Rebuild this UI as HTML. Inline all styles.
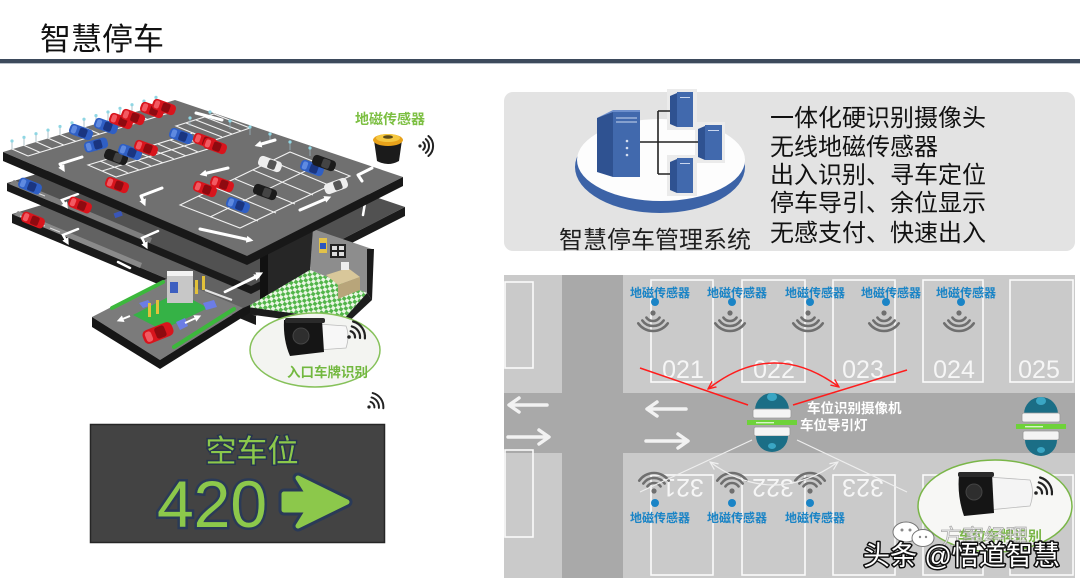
<!DOCTYPE html>
<html><head><meta charset="utf-8"><title>智慧停车</title>
<style>
html,body{margin:0;padding:0;background:#fff}
body{width:1080px;height:588px;overflow:hidden}
svg{display:block}
</style></head><body>
<svg xmlns="http://www.w3.org/2000/svg" width="1080" height="588" viewBox="0 0 1080 588" font-family="'Liberation Sans','Noto Sans CJK SC',sans-serif">
<defs>
<pattern id="chk" width="7" height="7" patternUnits="userSpaceOnUse" patternTransform="rotate(35)">
 <rect width="7" height="7" fill="#eaf6e4"/>
 <rect width="3.5" height="3.5" fill="#52b54a"/>
 <rect x="3.5" y="3.5" width="3.5" height="3.5" fill="#52b54a"/>
</pattern>
<g id="cR"><rect x="-12" y="-5.5" width="24" height="11" rx="4" fill="#d8141c"/><rect x="-2" y="-4.5" width="8" height="9" rx="2" fill="#8e0a10"/><rect x="-10" y="-4" width="5" height="8" rx="2" fill="#f25a62"/></g>
<g id="cB"><rect x="-12" y="-5.5" width="24" height="11" rx="4" fill="#2f5fc4"/><rect x="-2" y="-4.5" width="8" height="9" rx="2" fill="#1a3580"/><rect x="-10" y="-4" width="5" height="8" rx="2" fill="#5f8ae0"/></g>
<g id="cK"><rect x="-12" y="-5.5" width="24" height="11" rx="4" fill="#1b1b1b"/><rect x="-2" y="-4.5" width="8" height="9" rx="2" fill="#444"/></g>
<g id="cW"><rect x="-12" y="-5.5" width="24" height="11" rx="4" fill="#eeeeee"/><rect x="-2" y="-4.5" width="8" height="9" rx="2" fill="#555"/></g>
<marker id="ra" viewBox="0 0 10 10" refX="9" refY="5" markerWidth="9" markerHeight="9" markerUnits="userSpaceOnUse" orient="auto-start-reverse"><path d="M0,1 L9,5 L0,9" fill="none" stroke="#ff1c1c" stroke-width="1.5"/></marker>
<marker id="wa" viewBox="0 0 10 10" refX="9" refY="5" markerWidth="9" markerHeight="9" markerUnits="userSpaceOnUse" orient="auto-start-reverse"><path d="M0,1 L9,5 L0,9" fill="none" stroke="#f0f0f0" stroke-width="1.3"/></marker>
<marker id="dh" viewBox="0 0 10 10" refX="5" refY="5" markerWidth="7" markerHeight="7" markerUnits="userSpaceOnUse" orient="auto"><path d="M0,0 L10,5 L0,10 z" fill="#fff"/></marker>
<g id="wd" fill="none" stroke="#6f6f6f" stroke-width="2.6" stroke-linecap="round">
 <circle cx="0" cy="0" r="2.6" fill="#6f6f6f" stroke="none"/>
 <path d="M6.55,4.59 A8,8 0 0 1 -6.55,4.59"/>
 <path d="M10.65,7.46 A13,13 0 0 1 -10.65,7.46"/>
 <path d="M14.74,10.32 A18,18 0 0 1 -14.74,10.32"/>
</g>
<g id="wu" fill="none" stroke="#6f6f6f" stroke-width="2.6" stroke-linecap="round">
 <circle cx="0" cy="0" r="2.6" fill="#6f6f6f" stroke="none"/>
 <path d="M6.55,-4.59 A8,8 0 0 0 -6.55,-4.59"/>
 <path d="M10.65,-7.46 A13,13 0 0 0 -10.65,-7.46"/>
 <path d="M14.74,-10.32 A18,18 0 0 0 -14.74,-10.32"/>
</g>
<g id="wr" fill="none" stroke="#222" stroke-width="2.2" stroke-linecap="round">
 <circle cx="0" cy="0" r="1.8" fill="#222" stroke="none"/>
 <path d="M1.6,-5.8 A6,6 0 0 1 6,0.5"/>
 <path d="M2.8,-10.6 A11,11 0 0 1 11,1"/>
 <path d="M4.1,-15.5 A16,16 0 0 1 15.9,1.4"/>
</g>
<g id="lamp">
 <path d="M-17,17 A17,17 0 0 1 17,17 Z" fill="#1b6e86"/>
 <ellipse cx="0" cy="4" rx="5" ry="4" fill="#3aa6c4"/>
 <rect x="-19" y="16" width="38" height="9" rx="2" fill="#f4f4f4" stroke="#9a9a9a" stroke-width="0.8"/>
 <rect x="-25" y="27" width="50" height="5" fill="#6ed23a"/>
 <rect x="-16" y="29" width="18" height="1.4" fill="#d8f5c8"/>
 <rect x="-18" y="34" width="36" height="9" rx="2" fill="#f4f4f4" stroke="#9a9a9a" stroke-width="0.8"/>
 <path d="M-16,43 A16,16 0 0 0 16,43 Z" fill="#1b6e86"/>
 <ellipse cx="0" cy="53" rx="4" ry="3" fill="#3aa6c4"/>
</g>
</defs>

<rect width="1080" height="588" fill="#fff"/>

<!-- Title -->
<text x="40" y="50" font-size="31" fill="#111">智慧停车</text>
<rect x="0" y="59" width="1080" height="4" fill="#3d4a5c"/>
<rect x="0" y="63" width="1080" height="1" fill="#b9c0c9"/>

<!-- ================= LEFT GARAGE ================= -->
<!-- level 3 -->
<polygon points="12,214 184,162 360,222 256,316" fill="#626262"/>
<polygon points="12,214 256,316 256,325 12,223" fill="#1a1a1a"/>
<!-- level 2 -->
<polygon points="7,183 179,131 405,207 251,286" fill="#515151"/>
<polygon points="7,183 251,286 251,294 7,191" fill="#1a1a1a"/>
<polygon points="251,286 405,207 405,216 251,294" fill="#1a1a1a"/>
<polygon points="9,184 150,243 152,238 14,180" fill="#7e7e7e"/>
<polygon points="14,215 140,268 142,263 18,211" fill="#8a8a8a"/>
<!-- level markings -->
<g fill="none" stroke="#fff" stroke-width="2.5" stroke-linecap="round">
 <path d="M78,194 L62,200 L66,206" marker-end="url(#dh)"/>
 <path d="M158,231 L142,238 L146,246" marker-end="url(#dh)"/>
 <path d="M78,229 L63,235 L67,242" marker-end="url(#dh)"/>
 <path d="M118,262 L130,268"/>
 <path d="M357,205 L365,203 L363,215"/>
 <path d="M225,292 L258,276" marker-end="url(#dh)"/>
</g>
<g stroke="#ddd" stroke-width="1" fill="none"><path d="M20,186 l10,4 M35,192 l10,4 M20,216 l10,4 M35,222 l10,4 M50,228 l10,4"/></g>
<use href="#cB" transform="translate(30,186) rotate(22)"/>
<use href="#cR" transform="translate(80,205) rotate(22)"/>
<use href="#cR" transform="translate(33,220) rotate(22)"/>
<rect x="114" y="212" width="8" height="5" fill="#3a56b8" transform="rotate(-20 118 214)"/>

<!-- building -->
<polygon points="268,254 313,229 310,270 268,295" fill="#262626"/>
<polygon points="313,229 372,249 367,293 310,270" fill="#8d8d8d"/>
<polygon points="367,249 374,249 372,300 367,293" fill="#1a1a1a"/>
<polygon points="260,256 268,253 268,300 260,304" fill="#111"/>
<polygon points="247,307 310,270 367,293 343,320" fill="url(#chk)"/>
<polygon points="247,307 343,320 343,327 247,314" fill="#1d1d1d"/>
<polygon points="343,320 367,293 372,300 343,327" fill="#1d1d1d"/>
<rect x="319" y="238" width="8" height="15" fill="#e2c24a"/><rect x="320" y="243" width="6" height="6" fill="#2c56c0"/>
<rect x="330" y="244" width="16" height="14" fill="#222"/>
<g fill="#ddd"><rect x="332" y="246" width="5" height="4"/><rect x="339" y="246" width="5" height="4"/><rect x="332" y="252" width="5" height="4"/><rect x="339" y="252" width="5" height="4"/></g>
<polygon points="326,275 348,268 360,277 338,285" fill="#d8c79a"/>
<polygon points="338,285 360,277 360,290 338,299" fill="#b8a57a"/>
<rect x="341" y="262" width="8" height="8" fill="#eee"/>

<!-- entry platform -->
<polygon points="92,317 170,277 243,308 160,360" fill="#7b7b7b"/>
<polygon points="92,317 160,360 160,369 92,327" fill="#161616"/>
<polygon points="160,360 243,308 243,317 160,369" fill="#161616"/>
<polygon points="243,308 250,305 250,313 243,317" fill="#161616"/>
<polygon points="133,315 178,292 208,308 162,330" fill="#35b246"/>
<g stroke="#3cb83c" stroke-width="4" stroke-linecap="round"><path d="M112,308 L163,282"/><path d="M174,347 L234,309"/></g>
<polygon points="139,303 148,300 152,305 143,308" fill="#6c7de6"/>
<polygon points="203,303 214,300 217,307 206,310" fill="#6c7de6"/>
<polygon points="176,322 185,318 188,326 180,330" fill="#6c7de6"/>
<rect x="167" y="273" width="26" height="30" fill="#c7c7c7"/><rect x="167" y="271" width="26" height="5" fill="#f2f2f2"/>
<rect x="170" y="282" width="8" height="11" fill="#3d5fc0"/>
<g fill="#e2c13a"><rect x="148" y="303" width="3" height="14"/><rect x="156" y="300" width="3" height="14"/><rect x="195" y="280" width="3" height="14"/><rect x="202" y="276" width="3" height="14"/></g>
<path d="M205,290 L232,300" stroke="#e4e4e4" stroke-width="2"/>
<g stroke="#fff" stroke-width="2" fill="none"><path d="M130,316 L120,320" marker-end="url(#dh)"/><path d="M185,323 L198,317" marker-end="url(#dh)"/><path d="M224,292 L260,274" marker-end="url(#dh)"/></g>
<use href="#cR" transform="translate(158,333) rotate(-22) scale(1.3)"/>

<!-- top deck -->
<polygon points="3,152 175,100 403,177 247,256" fill="#707070"/>
<polygon points="3,152 247,256 247,265 3,161" fill="#181818"/>
<polygon points="247,256 403,177 403,186 247,265" fill="#181818"/>
<!-- deck markings -->
<g fill="none" stroke="#f2f2f2" stroke-width="1.1">
 <path d="M12,149 l16,7 M24,145.4 l16,7 M36,141.7 l16,7 M48,138.1 l16,7 M60,134.5 l16,7 M72,130.9 l16,7 M84,127.2 l16,7 M96,123.6 l16,7 M108,120 l16,7 M120,116.3 l16,7 M132,112.7 l16,7 M144,109.1 l16,7 M156,105.4 l16,7"/>
 <path d="M28,156 L172,112"/>
 <path d="M88,165 L193,133 L221,145 L116,177 Z M102,171 L207,139"/>
 <path d="M100,161 l27.6,11.7 M111,158 l27.6,11.7 M123,154 l27.6,11.7 M135,151 l27.6,11.7 M146,147 l27.6,11.7 M158,144 l27.6,11.7 M170,140 l27.6,11.7 M181,136 l27.6,11.7"/>
 <path d="M180,205 L290,152 L350,176 L240,228 Z M210,217 L320,164"/>
 <path d="M198,196 l60,25 M216,188 l60,25 M235,179 l60,25 M253,170 l60,25 M271,161 l60,25"/>
 <path d="M176,126 L214,114 L250,128 L212,141 Z"/>
 <path d="M186,123 l36,14 M196,120 l36,14 M205,117 l36,14"/>
</g>
<g stroke="#9ab2bc" stroke-width="0.8"><path d="M12,149 v-7 M24,145.4 v-7 M36,141.7 v-7 M48,138.1 v-7 M60,134.5 v-7 M72,130.9 v-7 M84,127.2 v-7 M96,123.6 v-7 M108,120 v-7 M120,116.3 v-7 M132,112.7 v-7 M144,109.1 v-7 M156,105.4 v-7 M190,126 v-7 M210,120 v-7 M230,129 v-7 M250,135 v-7 M270,142 v-7 M290,150 v-7 M310,156 v-7"/></g>
<g fill="#8fd6e3"><circle cx="12" cy="141" r="1.6"/><circle cx="24" cy="137.4" r="1.6"/><circle cx="36" cy="133.7" r="1.6"/><circle cx="48" cy="130.1" r="1.6"/><circle cx="60" cy="126.5" r="1.6"/><circle cx="72" cy="122.9" r="1.6"/><circle cx="84" cy="119.2" r="1.6"/><circle cx="96" cy="115.6" r="1.6"/><circle cx="108" cy="112" r="1.6"/><circle cx="120" cy="108.3" r="1.6"/><circle cx="132" cy="104.7" r="1.6"/><circle cx="144" cy="101.1" r="1.6"/><circle cx="156" cy="97.4" r="1.6"/><circle cx="190" cy="118" r="1.6"/><circle cx="210" cy="112" r="1.6"/><circle cx="230" cy="121" r="1.6"/><circle cx="250" cy="127" r="1.6"/><circle cx="270" cy="134" r="1.6"/><circle cx="290" cy="142" r="1.6"/><circle cx="310" cy="148" r="1.6"/></g>
<g fill="none" stroke="#fff" stroke-width="3" stroke-linecap="round" stroke-linejoin="round">
 <path d="M82,157 L60,164 L63,169" marker-end="url(#dh)"/>
 <path d="M162,188 L141,196 L144,203" marker-end="url(#dh)"/>
 <path d="M200,229 L250,240" marker-end="url(#dh)"/>
 <path d="M300,210 L328,198" marker-end="url(#dh)"/>
 <path d="M275,140 L258,145" marker-end="url(#dh)"/>
 <path d="M228,168 L203,174" marker-end="url(#dh)"/>
 <path d="M372,168 L358,175 L362,181"/>
 <path d="M196,113 L222,120"/>
 <path d="M300,133 L340,142"/>
</g>
<!-- deck cars -->
<use href="#cB" transform="translate(81,132) rotate(20)"/>
<use href="#cB" transform="translate(106,126) rotate(20)"/>
<use href="#cR" transform="translate(121,121) rotate(20)"/>
<use href="#cR" transform="translate(133,117) rotate(20)"/>
<use href="#cR" transform="translate(152,110) rotate(20)"/>
<use href="#cR" transform="translate(164,107) rotate(20)"/>
<use href="#cB" transform="translate(96,145) rotate(-15)"/>
<use href="#cK" transform="translate(116,157) rotate(20)"/>
<use href="#cB" transform="translate(130,152) rotate(20)"/>
<use href="#cR" transform="translate(146,148) rotate(20)"/>
<use href="#cR" transform="translate(117,185) rotate(20)"/>
<use href="#cB" transform="translate(181,136) rotate(20)"/>
<use href="#cR" transform="translate(205,141) rotate(20)"/>
<use href="#cR" transform="translate(215,146) rotate(20)"/>
<use href="#cR" transform="translate(205,189) rotate(20)"/>
<use href="#cR" transform="translate(222,184) rotate(20)"/>
<use href="#cB" transform="translate(238,205) rotate(20)"/>
<use href="#cK" transform="translate(265,192) rotate(20)"/>
<use href="#cW" transform="translate(270,164) rotate(20)"/>
<use href="#cB" transform="translate(312,168) rotate(20)"/>
<use href="#cK" transform="translate(324,163) rotate(20)"/>
<use href="#cW" transform="translate(336,186) rotate(-20)"/>

<!-- sensor puck -->
<text x="355" y="124" font-size="14" font-weight="bold" fill="#7cbf42">地磁传感器</text>
<path d="M374,140 L402,140 L399,161 Q388,167 377,161 Z" fill="#1b1b1b"/>
<ellipse cx="388" cy="140" rx="15" ry="6" fill="#e8a21a"/>
<ellipse cx="388" cy="138" rx="12" ry="4" fill="#f5c842"/>
<ellipse cx="388" cy="137" rx="5" ry="1.8" fill="#5a4a1a"/>
<g fill="none" stroke="#222" stroke-width="2" stroke-linecap="round">
 <circle cx="420" cy="146" r="1.6" fill="#222" stroke="none"/>
 <path d="M423.2,142.2 A5,5 0 0 1 423.2,149.8"/>
 <path d="M425.8,139.1 A9,9 0 0 1 425.8,152.9"/>
 <path d="M428.4,136 A13,13 0 0 1 428.4,156"/>
</g>

<!-- left camera ellipse -->
<ellipse cx="315" cy="350" rx="65" ry="37" fill="#f3f4f1" stroke="#86c15a" stroke-width="1.5"/>
<path d="M318,324 L346,326 Q350,336 346,348 L318,350 Z" fill="#f7f7f7" stroke="#bbb" stroke-width="0.8"/>
<path d="M284,320 L322,320 L324,352 L290,356 Q283,340 284,320 Z" fill="#151515"/>
<rect x="285" y="318" width="40" height="5" rx="2" fill="#2a2a2a"/>
<circle cx="301" cy="336" r="8" fill="#2e2e2e" stroke="#444" stroke-width="1"/>
<use href="#wr" transform="translate(349,337)"/>
<text x="287" y="377" font-size="13.5" font-weight="bold" fill="#72b83f">入口车牌识别</text>
<use href="#wr" transform="translate(369,407) scale(0.9)"/>

<!-- sign -->
<rect x="90.5" y="424.5" width="294" height="118" fill="#434343" stroke="#262626" stroke-width="1.5"/>
<text x="252" y="462" font-size="31" text-anchor="middle" fill="#8cc84b" stroke="#27354f" stroke-width="3" paint-order="stroke">空车位</text>
<text x="212" y="527" font-size="66" text-anchor="middle" fill="#8cc84b" stroke="#2a3a57" stroke-width="5" paint-order="stroke">420</text>
<path d="M284,494 L308,494 L298,478 L347,502 L298,526 L308,510 L284,510 Z" fill="#2a3a57" stroke="#2a3a57" stroke-width="11" stroke-linejoin="round"/>
<path d="M284,494 L308,494 L298,478 L347,502 L298,526 L308,510 L284,510 Z" fill="#8cc84b" stroke="#8cc84b" stroke-width="5" stroke-linejoin="round"/>

<!-- ================= RIGHT TOP PANEL ================= -->
<rect x="504" y="92" width="571" height="159" rx="9" fill="#e3e3e3"/>
<ellipse cx="660" cy="167" rx="85" ry="46" fill="#3c63a7"/>
<ellipse cx="661" cy="160" rx="84" ry="41" fill="#fdfdfd"/>
<rect x="667" y="89" width="30" height="41" fill="#ebebeb"/>
<rect x="695" y="122" width="30" height="41" fill="#ebebeb"/>
<rect x="667" y="155" width="30" height="41" fill="#ebebeb"/>
<g stroke="#222" stroke-width="1.6" fill="none"><path d="M658,111 V174 M640,142 H698 M658,111 H670 M658,174 H670"/></g>
<polygon points="597,118 613,111 613,177 597,172" fill="#2f5291"/>
<rect x="613" y="110" width="27" height="67" fill="#4169ad"/>
<polygon points="597,118 613,110 640,110 640,112 613,112" fill="#6d8fcc"/>
<g stroke="#c9d6ee" stroke-width="1"><path d="M616,118 H637 M616,122 H637"/></g>
<g fill="#d4def0"><circle cx="627" cy="141" r="1.3"/><circle cx="627" cy="148" r="1.3"/><circle cx="627" cy="155" r="1.3"/></g>
<g>
 <polygon points="670,96 677,93 677,127 670,124" fill="#2f5291"/><rect x="677" y="92" width="16" height="35" fill="#4169ad"/>
 <polygon points="698,129 705,126 705,160 698,157" fill="#2f5291"/><rect x="705" y="125" width="17" height="35" fill="#4169ad"/>
 <polygon points="670,162 677,159 677,193 670,190" fill="#2f5291"/><rect x="677" y="158" width="16" height="35" fill="#4169ad"/>
 <g fill="#c9d6ee"><rect x="680" y="97" width="10" height="1"/><rect x="708" y="130" width="11" height="1"/><rect x="680" y="163" width="10" height="1"/></g>
</g>
<text x="559" y="248" font-size="24" fill="#1e1e1e">智慧停车管理系统</text>
<g font-size="24" fill="#111">
 <text x="770" y="126">一体化硬识别摄像头</text>
 <text x="770" y="155">无线地磁传感器</text>
 <text x="770" y="183">出入识别、寻车定位</text>
 <text x="770" y="211">停车导引、余位显示</text>
 <text x="770" y="241">无感支付、快速出入</text>
</g>

<!-- ================= RIGHT BOTTOM PARKING ================= -->
<rect x="504" y="275" width="571" height="303" fill="#cacaca"/>
<rect x="562" y="275" width="61" height="303" fill="#a9a9a9"/>
<rect x="504" y="393" width="571" height="60" fill="#a9a9a9"/>
<g fill="none" stroke="#fbfbfb" stroke-width="1.6">
 <rect x="505" y="282" width="28" height="86"/>
 <rect x="505" y="450" width="28" height="87"/>
 <rect x="651" y="280" width="62" height="102"/>
 <rect x="742" y="280" width="63" height="102"/>
 <rect x="833" y="280" width="62" height="102"/>
 <rect x="923" y="280" width="60" height="102"/>
 <rect x="1010" y="280" width="63" height="102"/>
 <rect x="651" y="475" width="62" height="100"/>
 <rect x="742" y="475" width="63" height="100"/>
 <rect x="833" y="475" width="62" height="100"/>
 <rect x="923" y="475" width="60" height="100"/>
 <rect x="1010" y="475" width="63" height="100"/>
</g>
<g font-size="25" fill="#f6f6f6" text-anchor="middle">
 <text x="683" y="378">021</text>
 <text x="774" y="378">022</text>
 <text x="863" y="378">023</text>
 <text x="954" y="378">024</text>
 <text x="1039" y="378">025</text>
 <text x="683" y="497" transform="rotate(180 683 488)">321</text>
 <text x="773" y="497" transform="rotate(180 773 488)">322</text>
 <text x="863" y="497" transform="rotate(180 863 488)">323</text>
</g>
<!-- lane arrows -->
<g fill="none" stroke="#f2f2f2" stroke-width="3.5" stroke-linecap="round" stroke-linejoin="round">
 <path d="M547,405 H510 M519,398 L509,405 L519,412"/>
 <path d="M508,437 H548 M539,430 L549,437 L539,444"/>
 <path d="M686,409 H648 M657,402 L647,409 L657,416"/>
 <path d="M646,441 H687 M678,434 L688,441 L678,448"/>
</g>
<!-- top sensors -->
<g font-size="12" font-weight="bold" fill="#1a84c6" text-anchor="middle">
 <text x="660" y="297">地磁传感器</text>
 <text x="737" y="297">地磁传感器</text>
 <text x="815" y="297">地磁传感器</text>
 <text x="891" y="297">地磁传感器</text>
 <text x="966" y="297">地磁传感器</text>
 <text x="660" y="522">地磁传感器</text>
 <text x="737" y="522">地磁传感器</text>
 <text x="815" y="522">地磁传感器</text>
</g>
<g fill="#1a84c6">
 <circle cx="655" cy="302" r="4"/><circle cx="732" cy="302" r="4"/><circle cx="810" cy="302" r="4"/><circle cx="886" cy="302" r="4"/><circle cx="961" cy="302" r="4"/>
 <circle cx="655" cy="503" r="4"/><circle cx="732" cy="503" r="4"/><circle cx="810" cy="503" r="4"/>
</g>
<use href="#wd" transform="translate(653,313)"/>
<use href="#wd" transform="translate(730,313)"/>
<use href="#wd" transform="translate(808,313)"/>
<use href="#wd" transform="translate(884,313)"/>
<use href="#wd" transform="translate(959,313)"/>
<use href="#wu" transform="translate(654,491)"/>
<use href="#wu" transform="translate(732,491)"/>
<use href="#wu" transform="translate(810,491)"/>
<!-- red lines -->
<g fill="none" stroke="#ff1c1c" stroke-width="1.5">
 <path d="M640,368 L748,405"/>
 <path d="M793,405 L907,370"/>
 <path d="M708,389 Q773,338 839,387" marker-start="url(#ra)" marker-end="url(#ra)"/>
</g>
<!-- white lines -->
<g fill="none" stroke="#eeeeee" stroke-width="1.2">
 <path d="M752,440 L640,492"/>
 <path d="M797,440 L907,492"/>
 <path d="M710,462 Q773,508 838,462" marker-start="url(#wa)" marker-end="url(#wa)"/>
</g>
<use href="#lamp" transform="translate(772,393)"/>
<use href="#lamp" transform="translate(1041,397)"/>
<text x="807" y="413" font-size="13.5" font-weight="bold" fill="#fff">车位识别摄像机</text>
<text x="800" y="430" font-size="13.5" font-weight="bold" fill="#fff">车位导引灯</text>

<!-- right camera ellipse -->
<ellipse cx="995" cy="506" rx="77" ry="46" fill="#f7f7f5" stroke="#7ab648" stroke-width="1.5"/>
<path d="M988,477 L1030,480 Q1035,492 1030,506 L988,510 Z" fill="#f4f4f4" stroke="#bbb" stroke-width="0.8"/>
<path d="M959,475 L992,474 L994,513 L964,516 Q957,496 959,475 Z" fill="#151515"/>
<rect x="958" y="472" width="36" height="5" rx="2" fill="#2a2a2a"/>
<circle cx="974" cy="492" r="8" fill="#2e2e2e" stroke="#444" stroke-width="1"/>
<use href="#wr" transform="translate(1036,493)"/>
<text x="958" y="541" font-size="14" font-weight="bold" fill="#7ab648">车位车牌识别</text>

<!-- watermark -->
<g fill="#fff" stroke="#777" stroke-width="1">
 <ellipse cx="906" cy="532" rx="13" ry="10"/>
 <ellipse cx="923" cy="538" rx="11" ry="8.5"/>
</g>
<g fill="#888"><circle cx="902" cy="530" r="1.5"/><circle cx="910" cy="530" r="1.5"/><circle cx="920" cy="537" r="1.2"/><circle cx="926" cy="537" r="1.2"/></g>
<text x="940" y="545" font-size="22" fill="#f3f3f3" stroke="#9a9a9a" stroke-width="0.8" opacity="0.8">方案经理</text>
<text x="863" y="565" font-size="27" fill="#fff" stroke="#111" stroke-width="3" paint-order="stroke" stroke-linejoin="round">头条 @悟道智慧</text>
</svg>
</body></html>
